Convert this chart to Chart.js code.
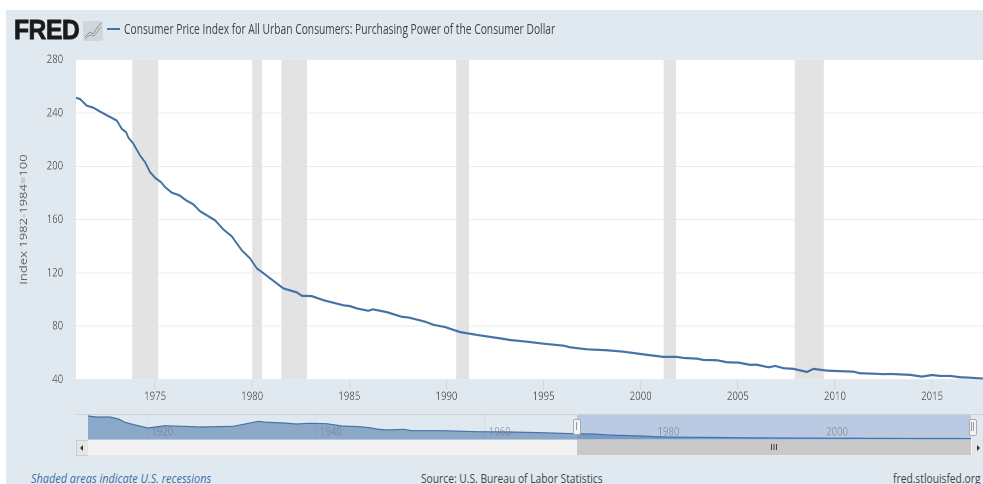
<!DOCTYPE html>
<html>
<head>
<meta charset="utf-8">
<script src="https://cdn.jsdelivr.net/npm/chart.js@4"></script>
<style>
  html,body{margin:0;padding:0;background:#fff;width:983px;height:484px;overflow:hidden;font-family:"Open Sans",sans-serif}
  #panel{position:absolute;left:6px;top:10px;width:977px;height:474px;background:#e1e9f0}
  canvas{position:absolute;left:0;transform-origin:0 0;transform:scaleX(0.8)}
  .t{position:absolute;white-space:nowrap;transform-origin:0 0}
  .b{position:absolute}
</style>
</head>
<body>
<div id="panel"></div>
<canvas id="main"></canvas>
<canvas id="nav"></canvas>

<div class="t" style="left:14px;top:14px;font:bold 28px/32px 'Liberation Sans';color:#1a1a1a;transform:scaleX(.88);-webkit-text-stroke:.8px #1a1a1a;letter-spacing:-.5px">FRED</div>
<svg class="b" style="left:83px;top:21px" width="20" height="20" viewBox="0 0 20 20">
  <rect x="0" y="0" width="20" height="20" rx="2" fill="#d3d6d8"/>
  <polyline points="2,16 7,11 10,13 14,7 18,2" fill="none" stroke="#6f93b8" stroke-width="1"/>
  <polyline points="2,18 7,14 11,15 15,10 18,6" fill="none" stroke="#8aa67a" stroke-width="1"/>
</svg>
<div class="b" style="left:107px;top:28px;width:13px;height:2px;background:#4572a7"></div>
<div class="t" id="title" style="left:124px;top:19px;font-size:14px;line-height:20px;color:#444;transform:scaleX(.733)">Consumer Price Index for All Urban Consumers: Purchasing Power of the Consumer Dollar</div>

<div class="b" style="left:76px;top:414px;width:907px;height:1px;background:#ccd1d6"></div>
<div class="b" style="left:76px;top:440px;width:907px;height:15px;background:#f2f2f2"></div>
<div class="b" style="left:577px;top:440px;width:394px;height:15px;background:#c9c9c9"></div>
<div class="b" style="left:76px;top:440px;width:11px;height:14px;background:#e6e6e6;border:1px solid #ccc;border-right-width:0"></div>
<div class="b" style="left:972px;top:440px;width:11px;height:15px;background:#e6e6e6"></div>
<div class="b" style="left:80px;top:445px;width:0;height:0;border:3px solid transparent;border-right:3px solid #333;border-left:0"></div>
<div class="b" style="left:977px;top:445px;width:0;height:0;border:3px solid transparent;border-left:3px solid #333;border-right:0"></div>
<div class="b" style="left:771px;top:444px;width:1px;height:6px;background:#444;box-shadow:2.5px 0 0 #444,5px 0 0 #444"></div>
<div class="b" style="left:573px;top:419px;width:6px;height:14px;background:#f4f4f4;border:1px solid #aaa;border-radius:2px"></div>
<div class="b" style="left:575.5px;top:422px;width:1px;height:8px;background:#999"></div>
<div class="b" style="left:968.5px;top:419px;width:6px;height:15px;background:#f4f4f4;border:1px solid #aaa;border-radius:2px"></div>
<div class="b" style="left:970.5px;top:422px;width:1px;height:9px;background:#999;box-shadow:2px 0 0 #999"></div>

<div class="t" style="left:31px;top:470px;font-size:12.5px;line-height:17px;font-style:italic;color:#3a6ea5;transform:scaleX(.873)">Shaded areas indicate U.S. recessions</div>
<div class="t" style="left:421px;top:470px;font-size:12.5px;line-height:17px;color:#444;transform:scaleX(.82)">Source: U.S. Bureau of Labor Statistics</div>
<div class="t" style="left:893px;top:470px;font-size:12.5px;line-height:17px;color:#444;transform:scaleX(.82)">fred.stlouisfed.org</div>

<script>
// Main series
const years = [1970.93,1971.14,1971.48,1971.82,1972.17,1973.03,1973.29,1973.51,1973.63,1973.88,1974.23,1974.49,1974.74,1975,1975.31,1975.51,1975.86,1976.25,1976.6,1976.97,1977.32,1977.66,1978.09,1978.52,1978.95,1979.46,1979.89,1980.24,1980.49,1981.09,1981.61,1982.3,1982.55,1983.07,1983.67,1984.7,1985.04,1985.39,1985.98,1986.21,1986.93,1987.7,1988.04,1988.9,1989.33,1989.93,1990.71,1991.74,1992.77,1993.28,1994.14,1995,1996.03,1996.37,1997.23,1998.26,1999.11,2000.14,2001.17,2001.86,2002.2,2002.89,2003.23,2003.92,2004.44,2005.04,2005.64,2005.95,2006.58,2006.93,2007.35,2007.87,2008.56,2008.9,2009.59,2010.96,2011.3,2011.99,2012.5,2012.85,2013.88,2014.48,2015,2015.42,2015.94,2016.45,2016.96,2017.63];
const values = [251.3,250.5,245.5,244,241,234.3,228,225.5,221.4,217,208,203,195.6,191.4,188,184.4,180.2,178.2,174.4,171.4,166.2,163.2,159.4,152.5,147.4,137,130.8,123.3,120.7,114,108.3,105.3,102.8,102.5,99.5,95.6,95,93.3,91.5,92.6,90.5,87,86.5,83.3,81,79.3,75.5,73,70.8,69.6,68.3,66.8,65.3,64.1,62.6,61.9,60.8,58.8,56.9,56.9,56.1,55.6,54.6,54.4,52.9,52.6,50.9,51.1,49.1,50.1,48.4,47.9,45.6,47.9,46.6,45.8,44.6,44.3,43.9,44.1,43.4,42.1,43.3,42.6,42.6,41.6,41.3,40.6];

// Earlier history shown only in the navigator
const navYears = [1913,1914,1915.6,1916.6,1917.4,1918.6,1920.1,1922.1,1924.3,1926.3,1930.2,1931.8,1933.2,1934.2,1936.2,1937.7,1939.3,1941.3,1943.1,1945.2,1946.4,1947.2,1948.4,1950.4,1951.4,1955.1,1959.1,1963,1966.9,1970.5];
const navValues = [1021,978,978,891,748,630,500,600,574,543,574,687,791,748,717,674,704,687,587,557,513,457,413,443,383,383,339,326,296,252];

const recessionStarts = [1973.83,1980,1981.5,1990.5,2001.17,2007.92];
const recessionEnds   = [1975.17,1980.5,1982.83,1991.17,2001.83,2009.42];

const xTicks = [1975,1980,1985,1990,1995,2000,2005,2010,2015];
const yTicks = [40,80,120,160,200,240,280];
const navTicks = [1920,1940,1960,1980,2000];

const xMin = 1970.93, xMax = 2017.63, yMin = 40, yMax = 280;
const navMin = 1911.58, navMax = 2019.12, navTop = 1108;
const selStart = 1970.97, selEnd = 2017.7;

const FONT = {family:"'Open Sans'", size:12};
const W = 1229;
const fixTicks = list => scale => { scale.ticks = list.map(v => ({value:v})); };
const plotBg = {id:'plotBg', beforeDraw(c){ const a=c.chartArea; c.ctx.save(); c.ctx.fillStyle='#fff'; c.ctx.fillRect(a.left,a.top,a.right-a.left,a.bottom-a.top); c.ctx.restore(); }};
// navigator year labels sit on top of the series, inside the plot area
const navLabels = {id:'navLabels', afterDatasetsDraw(c){
  const ctx=c.ctx, s=c.scales.x, a=c.chartArea;
  ctx.save();
  ctx.font="12px 'Open Sans'"; ctx.fillStyle='rgba(110,120,135,0.6)'; ctx.textAlign='center'; ctx.textBaseline='middle';
  navTicks.forEach(v=>ctx.fillText(String(v), s.getPixelForValue(v)+19, a.bottom-7.5));
  ctx.restore();
}};

const mainEl = document.getElementById('main');
mainEl.style.top = '0px';
mainEl.width = W; mainEl.height = 412;
new Chart(mainEl, {
  type:'line',
  plugins:[plotBg],
  data:{datasets:[
    {data:years.map((x,i)=>({x,y:values[i]})), borderColor:'#4572a7', borderWidth:2.2, pointRadius:0, tension:0, fill:false, order:0},
    ...recessionStarts.map((s,i)=>({data:[{x:s,y:yMax},{x:recessionEnds[i],y:yMax}], borderWidth:0, pointRadius:0, fill:{value:yMin}, backgroundColor:'#e3e3e3', order:1}))
  ]},
  options:{
    responsive:false, animation:false, devicePixelRatio:2,
    layout:{autoPadding:false, padding:{top:59.7,left:0,right:0,bottom:0}},
    plugins:{legend:{display:false},tooltip:{enabled:false}},
    scales:{
      x:{type:'linear',min:xMin,max:xMax,
        afterBuildTicks:fixTicks(xTicks),
        afterFit(s){s.height=32.6;},
        border:{display:false},
        grid:{drawOnChartArea:false,drawTicks:true,tickLength:10,color:'#ccd6eb',lineWidth:1.2},
        ticks:{font:FONT,color:'#666',padding:0,maxRotation:0,autoSkip:false,callback:v=>String(v)}},
      y:{type:'linear',min:yMin,max:yMax,
        afterBuildTicks:fixTicks(yTicks),
        afterFit(s){s.width=95;},
        border:{display:false},
        grid:{color:'#ebebeb',lineWidth:1,drawTicks:false},
        title:{display:true,text:'Index 1982-1984=100',color:'#666',font:{family:"'Open Sans'",size:13},padding:{top:22,bottom:0}},
        ticks:{font:FONT,color:'#666',padding:16,callback:v=>String(v)}}
    }
  }
});

const navEl = document.getElementById('nav');
navEl.style.top = '405px';
navEl.width = W; navEl.height = 35;
new Chart(navEl, {
  type:'line',
  plugins:[navLabels],
  data:{datasets:[
    {data:navYears.concat(years).map((x,i)=>({x,y:navValues.concat(values)[i]})), borderColor:'#4572a7', borderWidth:1.2, pointRadius:0, tension:0, fill:{value:0}, backgroundColor:'rgba(69,114,167,0.55)', order:0},
    {data:[{x:selStart,y:navTop},{x:selEnd,y:navTop}], borderWidth:0, pointRadius:0, fill:{value:0}, backgroundColor:'#b9cae2', order:1}
  ]},
  options:{
    responsive:false, animation:false, devicePixelRatio:2,
    layout:{autoPadding:false, padding:{top:9,left:95,right:0,bottom:0}},
    plugins:{legend:{display:false},tooltip:{enabled:false}},
    scales:{
      x:{type:'linear',min:navMin,max:navMax,
        afterBuildTicks:fixTicks(navTicks),
        afterFit(s){s.height=0.5;},
        border:{display:false},
        grid:{drawOnChartArea:true,drawTicks:false,color:'rgba(200,210,225,0.5)'},
        ticks:{display:false}},
      y:{display:false,min:0,max:navTop}
    }
  }
});
</script>
</body>
</html>
